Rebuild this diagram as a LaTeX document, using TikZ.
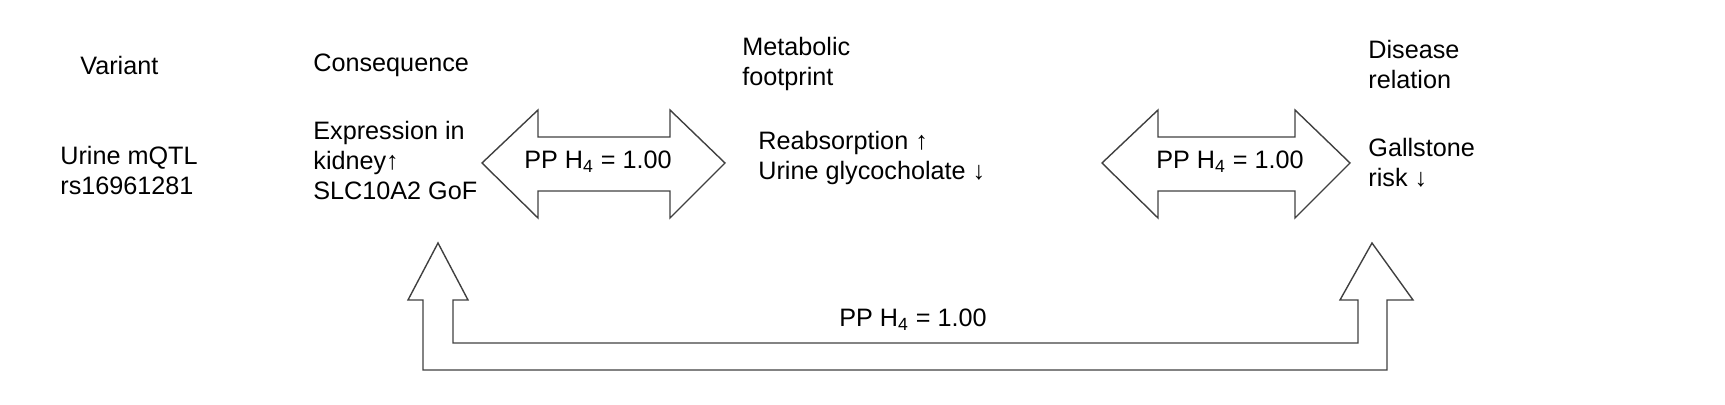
\documentclass[tikz,border=0pt]{standalone}
\usepackage{fontspec}
\setmainfont{Liberation Sans}
\begin{document}
\begin{tikzpicture}[x=0.5pt,y=-0.5pt,
  lbl/.style={anchor=west,inner sep=0pt,font=\fontsize{12.6}{15}\selectfont,align=left},
  ctr/.style={inner sep=0pt,font=\fontsize{12.6}{15}\selectfont},
  arr/.style={draw=black!75,line width=0.7pt,line join=miter}]
\useasboundingbox (0,0) rectangle (1725,405);
\node[lbl] (v) at (80,65) {Variant};
\node[lbl] (vt) at (60,170) {Urine mQTL\\rs16961281};
\node[lbl] (c) at (313,65) {Consequence};
\node[lbl] (ct) at (313,160) {Expression in\\kidney↑\\SLC10A2 GoF};
\node[lbl] (m) at (742,64) {Metabolic\\footprint};
\node[lbl] (mt) at (758,158) {Reabsorption ↑\\Urine glycocholate ↓};
\node[lbl] (d) at (1368,64) {Disease\\relation};
\node[lbl] (dt) at (1368,163) {Gallstone\\risk ↓};
\draw[arr] (482,163)--(538,110)--(538,137)--(670,137)--(670,110)--(725,163)--(670,218)--(670,191)--(538,191)--(538,218)--cycle;
\node[ctr] (p1) at (598,162) {PP H\textsubscript{4} = 1.00};
\draw[arr] (1102,163)--(1158,110)--(1158,137)--(1295,137)--(1295,110)--(1350,163)--(1295,218)--(1295,191)--(1158,191)--(1158,218)--cycle;
\node[ctr] (p2) at (1230,162) {PP H\textsubscript{4} = 1.00};
\draw[arr] (438,243)--(468,300)--(453,300)--(453,343)--(1358,343)--(1358,300)--(1340,300)--(1372,243)--(1413,300)--(1387,300)--(1387,370)--(423,370)--(423,300)--(408,300)--cycle;
\node[ctr] (p3) at (913,320) {PP H\textsubscript{4} = 1.00};
\end{tikzpicture}
\end{document}
